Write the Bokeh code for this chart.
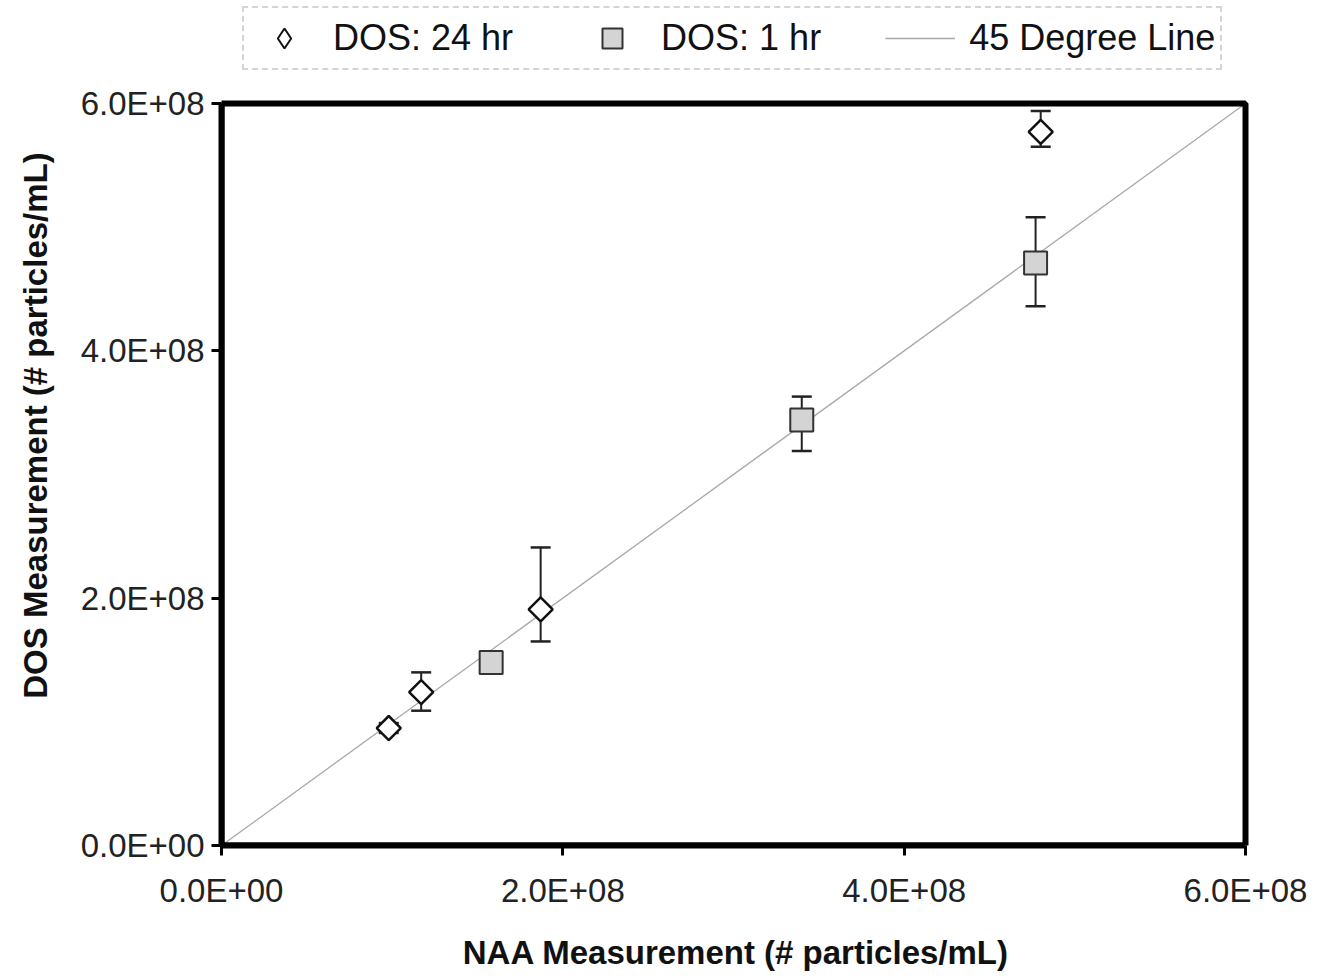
import math
from bokeh.plotting import figure
from bokeh.models import (Range1d, Whisker, ColumnDataSource, Legend, LegendItem, FixedTicker,
                          TeeHead, BoxAnnotation)
from bokeh.embed import file_html
from bokeh.resources import INLINE

# ---- data ----
naa_24 = [0.98e8, 1.17e8, 1.87e8, 4.80e8]
dos_24 = [0.95e8, 1.24e8, 1.91e8, 5.77e8]
dos_24_lo = [0.91e8, 1.09e8, 1.65e8, 5.65e8]
dos_24_hi = [0.99e8, 1.40e8, 2.41e8, 5.94e8]

naa_1 = [1.58e8, 3.40e8, 4.77e8]
dos_1 = [1.48e8, 3.44e8, 4.71e8]
dos_1_lo = [1.40e8, 3.19e8, 4.36e8]
dos_1_hi = [1.52e8, 3.63e8, 5.08e8]

axis_min, axis_max = 0, 6e8
line_x = [axis_min, axis_max]
line_y = [axis_min, axis_max]

tick_values = [0, 2e8, 4e8, 6e8]
tick_labels = ["0.0E+00", "2.0E+08", "4.0E+08", "6.0E+08"]

series_labels = ["DOS: 24 hr", "DOS: 1 hr", "45 Degree Line"]
x_title = "NAA Measurement (# particles/mL)"
y_title = "DOS Measurement (# particles/mL)"

FONT = "Liberation Sans"

# layout (pixels)
W, H = 1310, 973
PLOT_W, PLOT_H = 1024, 742            # size of the boxed data area
BORDER_L, BORDER_T, BORDER_B = 221, 5, 128
BORDER_R = W - BORDER_L - (PLOT_W + 5)
frame_w = W - BORDER_L - BORDER_R
frame_h = H - BORDER_T - BORDER_B
x_end = axis_max * frame_w / PLOT_W   # extra room on right for the box border
y_end = axis_max * frame_h / PLOT_H   # extra room on top for the legend

p = figure(width=W, height=H, output_backend="svg", toolbar_location=None,
           x_range=Range1d(axis_min, x_end), y_range=Range1d(axis_min, y_end),
           min_border_left=BORDER_L, min_border_right=BORDER_R,
           min_border_top=BORDER_T, min_border_bottom=BORDER_B)
p.background_fill_color = "white"
p.border_fill_color = "white"
p.grid.visible = False
p.outline_line_color = None

for ax in (p.xaxis[0], p.yaxis[0]):
    ax.bounds = (axis_min, axis_max)
    ax.ticker = FixedTicker(ticks=tick_values)
    ax.major_label_overrides = {v: l for v, l in zip(tick_values, tick_labels)}
    ax.axis_line_width = 6
    ax.axis_line_color = "black"
    ax.major_tick_line_width = 3
    ax.major_tick_line_color = "black"
    ax.major_tick_out = 10
    ax.major_tick_in = 0
    ax.minor_tick_line_color = None
    ax.major_label_text_font = FONT
    ax.major_label_text_font_size = "33px"
    ax.major_label_text_color = "#222222"
    ax.axis_label_text_font = FONT
    ax.axis_label_text_font_size = "33px"
    ax.axis_label_text_font_style = "bold"
    ax.axis_label_text_color = "#111111"

p.xaxis.axis_label = x_title
p.yaxis.axis_label = y_title
p.xaxis.major_label_standoff = 16
p.yaxis.major_label_standoff = 7
p.xaxis.axis_label_standoff = 22
p.yaxis.axis_label_standoff = 24

# thick box around the data area
p.add_layout(BoxAnnotation(left=axis_min, right=axis_max, bottom=axis_min, top=axis_max,
                           fill_alpha=0, line_color="black", line_alpha=1, line_width=6))

# 45 degree line
ln = p.line(line_x, line_y, line_color="#a8a8a8", line_width=1.3)

# error bars
src24 = ColumnDataSource(dict(x=naa_24, y=dos_24, lo=dos_24_lo, hi=dos_24_hi))
src1 = ColumnDataSource(dict(x=naa_1, y=dos_1, lo=dos_1_lo, hi=dos_1_hi))
for src in (src24, src1):
    w = Whisker(source=src, base="x", lower="lo", upper="hi", dimension="height",
                line_color="#222222", line_width=2,
                upper_head=TeeHead(size=20, line_width=2.5, line_color="#222222"),
                lower_head=TeeHead(size=20, line_width=2.5, line_color="#222222"))
    p.add_layout(w)

sq = p.scatter("x", "y", source=src1, marker="square", size=23,
               fill_color="#d4d4d4", line_color="#333333", line_width=2)
dm = p.scatter("x", "y", source=src24, marker="square", size=17, angle=math.pi / 4,
               fill_color="white", line_color="#111111", line_width=2.5)
# hidden renderer used only for the legend key (upright diamond)
dm_key = p.scatter("x", "y", source=src24, marker="diamond", size=20,
                   fill_color="white", line_color="#111111", line_width=2, visible=False)

legend = Legend(items=[LegendItem(label=series_labels[0], renderers=[dm_key]),
                       LegendItem(label=series_labels[1], renderers=[sq]),
                       LegendItem(label=series_labels[2], renderers=[ln])],
                orientation="horizontal",
                location=(21, PLOT_H + 33),   # legend bottom sits above the box
                label_text_font=FONT, label_text_font_size="36px", label_text_color="#111111",
                label_height=50,
                glyph_width=70, glyph_height=50, label_standoff=14, spacing=64,
                padding=5, margin=0,
                border_line_color="#aaaaaa", border_line_dash="dotted", border_line_width=2,
                background_fill_color="white", background_fill_alpha=1)
p.add_layout(legend, "center")

open("out.html", "w").write(file_html(p, INLINE))
